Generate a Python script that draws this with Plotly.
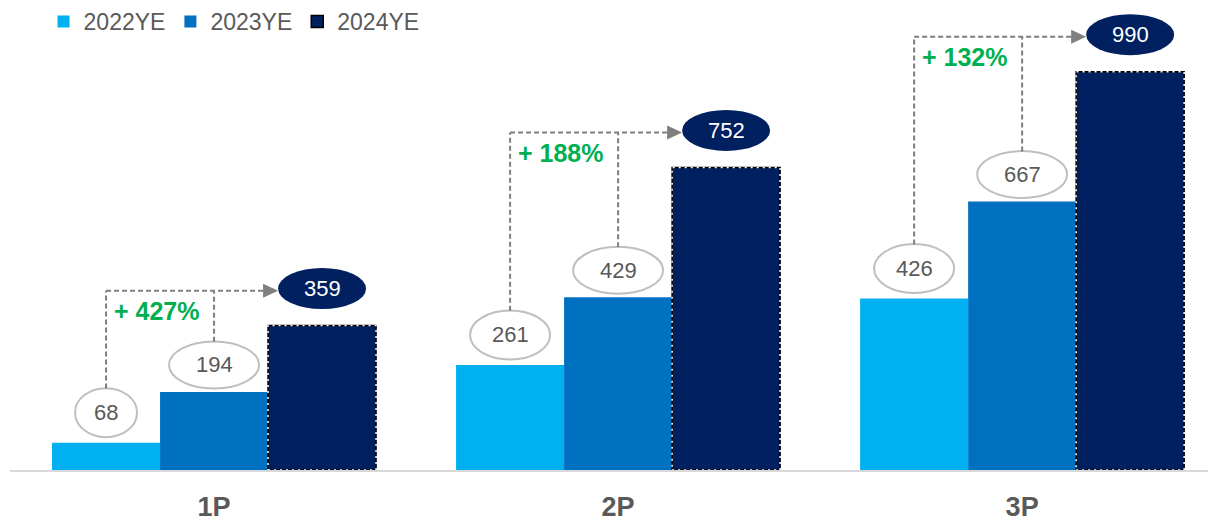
import plotly.graph_objects as go

# Reserve categories and year-end values
categories = ["1P", "2P", "3P"]
series_names = ["2022YE", "2023YE", "2024YE"]
values_2022 = [68, 261, 426]
values_2023 = [194, 429, 667]
values_2024 = [359, 752, 990]
growth_labels = ["+ 427%", "+ 188%", "+ 132%"]

# Styling
COLORS = ["#00B0F0", "#0070C0", "#002060"]
TEXT_GREY = "#595959"
LINE_GREY = "#7F7F7F"
GREEN = "#00B050"
FONT = "Liberation Sans, Arial, sans-serif"

W, H = 1208, 522
M_L, M_R, M_T, M_B = 10, 0, 0, 49
X_RANGE = [-0.505, 2.46]
Y_RANGE = [0, 1168]
BARGAP = 0.198

plot_w = W - M_L - M_R
plot_h = H - M_T - M_B
XPX = (X_RANGE[1] - X_RANGE[0]) / plot_w      # x data units per pixel
YPX = (Y_RANGE[1] - Y_RANGE[0]) / plot_h      # y data units per pixel
BW = (1 - BARGAP) / 3                          # width of a single bar

xpos = list(range(len(categories)))
series = [values_2022, values_2023, values_2024]

fig = go.Figure()
for name, vals, col in zip(series_names, series, COLORS):
    line = dict(width=1.5, color="#000000") if name == "2024YE" else dict(width=0)
    fig.add_trace(go.Bar(
        x=xpos, y=vals, name=name,
        marker=dict(color=col, line=line),
        hoverinfo="skip",
    ))

shapes = []
annotations = []

# Dashed black/white outline on the 2024YE bars
for c, v in zip(xpos, values_2024):
    shapes.append(dict(
        type="rect", xref="x", yref="y",
        x0=c + BW / 2, x1=c + 1.5 * BW, y0=0, y1=v,
        line=dict(color="#FFFFFF", width=1.5, dash="2px,4px"),
        fillcolor="rgba(0,0,0,0)", layer="above",
    ))

# Bubble labels: offset above the bar top (px), height (px), fill, border, text colour
label_style = [
    dict(off=30, h=49, fill="#FFFFFF", line="#BFBFBF", text=TEXT_GREY),
    dict(off=27, h=47, fill="#FFFFFF", line="#BFBFBF", text=TEXT_GREY),
    dict(off=37, h=41, fill=COLORS[2], line=COLORS[2], text="#FFFFFF"),
]


def bubble_width(s_idx, v):
    if s_idx == 0:
        return 62 if v < 100 else 80
    if s_idx == 1:
        return 90
    return 88


for s_idx, vals in enumerate(series):
    st = label_style[s_idx]
    for c, v in zip(xpos, vals):
        xc = c + (s_idx - 1) * BW
        w = bubble_width(s_idx, v)
        shapes.append(dict(
            type="circle", xref="x", yref="y",
            xsizemode="pixel", ysizemode="pixel",
            xanchor=xc, yanchor=v,
            x0=-w / 2, x1=w / 2, y0=st["off"] - st["h"] / 2, y1=st["off"] + st["h"] / 2,
            fillcolor=st["fill"],
            line=dict(color=st["line"], width=2 if s_idx < 2 else 0),
            layer="above",
        ))
        annotations.append(dict(
            x=xc, y=v, xref="x", yref="y", yshift=st["off"],
            text=str(v), showarrow=False, yanchor="middle",
            font=dict(family=FONT, size=22, color=st["text"]),
        ))

# Growth connectors: dashed elbows from the 2022/2023 bubbles to the 2024 bubble
dash_line = dict(color=LINE_GREY, width=2, dash="5px,3px")
for c, v22, v23, v24, g in zip(xpos, values_2022, values_2023, values_2024, growth_labels):
    xa, xb, xc = c - BW, c, c + BW
    y_h = v24 + (label_style[2]["off"] - 2) * YPX
    top_a = v22 + (label_style[0]["off"] + label_style[0]["h"] / 2) * YPX
    top_b = v23 + (label_style[1]["off"] + label_style[1]["h"] / 2) * YPX
    tip = xc - bubble_width(2, v24) / 2 * XPX
    shapes.append(dict(type="line", xref="x", yref="y", x0=xa, x1=xa, y0=top_a, y1=y_h, line=dash_line))
    shapes.append(dict(type="line", xref="x", yref="y", x0=xb, x1=xb, y0=top_b, y1=y_h, line=dash_line))
    shapes.append(dict(type="line", xref="x", yref="y", x0=xa, x1=tip - 15 * XPX, y0=y_h, y1=y_h, line=dash_line))
    shapes.append(dict(
        type="path", xref="x", yref="y",
        xsizemode="pixel", ysizemode="pixel", xanchor=tip, yanchor=y_h,
        path="M 0 0 L -15 7 L -15 -7 Z",
        fillcolor=LINE_GREY, line=dict(width=0),
    ))
    annotations.append(dict(
        x=xa, y=y_h, xref="x", yref="y", xshift=6, yshift=-20,
        xanchor="left", yanchor="middle", showarrow=False,
        text="<b>" + g + "</b>",
        font=dict(family=FONT, size=25, color=GREEN),
    ))

fig.update_layout(
    width=W, height=H,
    margin=dict(l=M_L, r=M_R, t=M_T, b=M_B),
    paper_bgcolor="#FFFFFF", plot_bgcolor="#FFFFFF",
    barmode="group", bargap=BARGAP, bargroupgap=0,
    font=dict(family=FONT, color=TEXT_GREY),
    showlegend=True,
    legend=dict(
        orientation="h", x=0.028, y=1.0, xanchor="left", yanchor="top",
        font=dict(family=FONT, size=23, color=TEXT_GREY),
        bgcolor="rgba(0,0,0,0)", itemclick=False, itemdoubleclick=False,
    ),
    xaxis=dict(
        range=X_RANGE, tickvals=xpos, ticktext=["<b>" + c + "</b>" for c in categories],
        tickfont=dict(family=FONT, size=27, color=TEXT_GREY),
        showline=True, linecolor="#D9D9D9", linewidth=2,
        showgrid=False, zeroline=False, ticks="", ticklabelstandoff=12,
    ),
    yaxis=dict(range=Y_RANGE, visible=False, showgrid=False, zeroline=False),
    shapes=shapes,
    annotations=annotations,
)

fig.write_html("out.html")
